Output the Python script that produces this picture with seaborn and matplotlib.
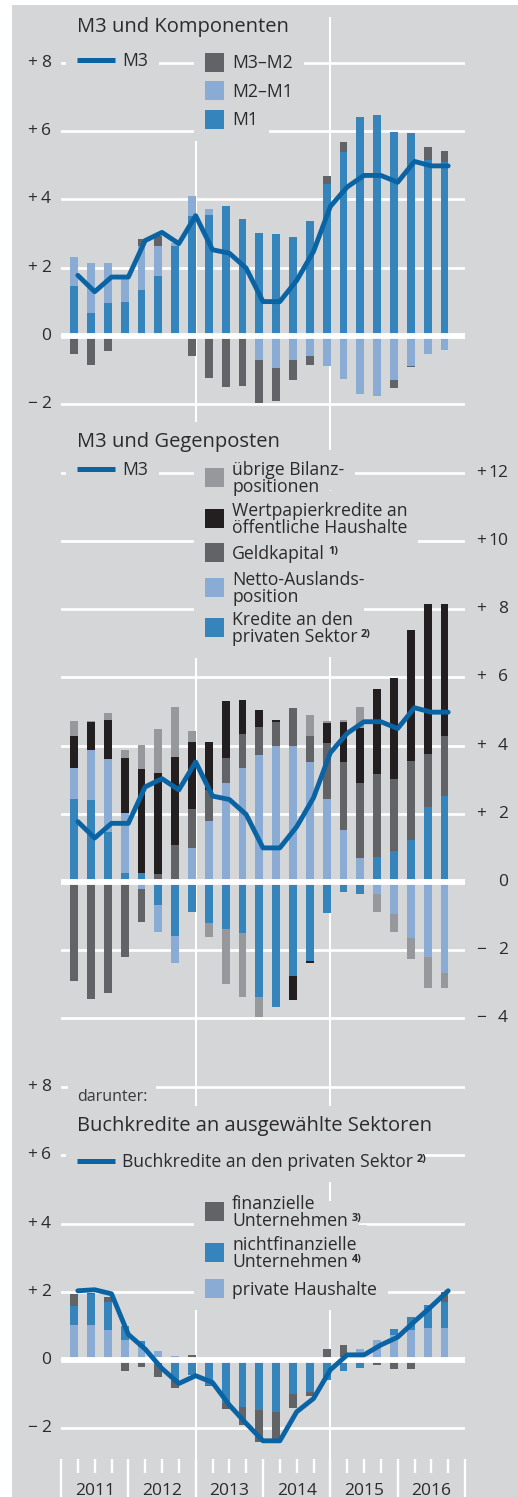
import numpy as np
import matplotlib
matplotlib.use("Agg")
import matplotlib.pyplot as plt
import seaborn as sns
from matplotlib.transforms import Affine2D, blended_transform_factory
from matplotlib.patches import Rectangle
from matplotlib.lines import Line2D

# ============================ data: quarterly rates, 2011 Q1 - 2016 Q3 ============================

years = ["2011", "2012", "2013", "2014", "2015", "2016"]

# M3 und Komponenten
m1 = [1.47, 0.67, 0.97, 0.99, 1.34, 1.75, 2.62, 3.52, 3.55, 3.80, 3.41, 3.02,
      2.97, 2.90, 3.35, 4.44, 5.38, 6.40, 6.48, 5.97, 5.95, 5.16, 5.09]
m2_m1 = [0.85, 1.47, 1.16, 0.70, 1.28, 0.89, 0.10, 0.59, 0.16, 0.0, 0.0, -0.72,
         -0.94, -0.72, -0.60, -0.89, -1.27, -1.70, -1.76, -1.30, -0.88, -0.53, -0.43]
m3_m2 = [-0.54, -0.87, -0.45, 0.0, 0.22, 0.27, 0.0, -0.59, -1.25, -1.50, -1.48, -1.24,
         -0.98, -0.57, -0.25, 0.24, 0.31, 0.0, 0.0, -0.22, -0.03, 0.37, 0.32]
m3 = [1.77, 1.29, 1.72, 1.72, 2.79, 3.03, 2.70, 3.52, 2.52, 2.42, 1.98, 1.00,
      1.00, 1.62, 2.47, 3.79, 4.36, 4.70, 4.70, 4.50, 5.11, 4.98, 4.98]

# M3 und Gegenposten
kredite = [2.44, 2.41, 1.46, 0.26, 0.26, -0.68, -1.57, -0.88, -1.19, -1.37, -1.50, -3.37,
           -3.67, -2.76, -2.31, -0.90, -0.30, -0.35, 0.73, 0.91, 1.24, 2.19, 2.51]
netto = [0.91, 1.46, 2.16, 1.76, -0.21, -0.80, -0.82, 0.99, 1.80, 2.90, 3.35, 3.72,
         4.00, 3.98, 3.51, 2.44, 1.53, 0.70, -0.35, -0.94, -1.64, -2.20, -2.67]
geldkapital = [-2.90, -3.43, -3.26, -2.20, -0.96, 0.24, 1.09, 1.15, 0.90, 0.73, 1.00, 0.84,
               0.70, 1.13, 0.78, 1.64, 2.00, 2.20, 2.44, 2.12, 2.32, 1.57, 1.76]
wertpapier = [0.92, 0.81, 1.13, 1.61, 3.06, 2.95, 2.59, 1.96, 1.40, 1.67, 1.00, 0.48,
              0.05, -0.71, -0.08, 0.57, 1.17, 1.62, 2.48, 2.94, 3.83, 4.40, 3.89]
uebrige = [0.45, 0.03, 0.22, 0.24, 0.71, 1.31, 1.46, 0.34, -0.41, -1.61, -1.87, -0.59,
           0.0, 0.0, 0.60, 0.07, 0.05, 0.62, -0.53, -0.52, -0.63, -0.90, -0.43]

# Buchkredite an ausgewaehlte Sektoren
priv_hh = [1.03, 1.03, 0.88, 0.59, 0.37, 0.25, 0.12, 0.0, 0.0, 0.0, 0.0, 0.0,
           0.0, 0.0, 0.0, 0.0, 0.0, 0.32, 0.59, 0.74, 0.88, 0.95, 0.95]
nichtfin = [0.54, 0.91, 0.81, 0.42, 0.18, -0.15, -0.62, -0.44, -0.73, -1.27, -1.39, -1.47,
            -1.52, -1.01, -0.95, -0.59, -0.31, -0.22, 0.0, 0.16, 0.39, 0.67, 0.74]
fin = [0.37, 0.03, 0.17, -0.31, -0.20, -0.35, -0.19, 0.15, -0.02, -0.18, -0.52, -0.93,
       -0.88, -0.41, -0.10, 0.32, 0.44, 0.0, -0.15, -0.25, -0.27, 0.0, 0.31]
buchkredite = [2.03, 2.06, 1.94, 0.75, 0.32, -0.25, -0.69, -0.46, -0.66, -1.32, -1.86, -2.37,
               -2.37, -1.52, -1.13, -0.29, 0.15, 0.15, 0.44, 0.67, 1.13, 1.57, 2.03]

# ================================= style =================================

BG = "#d5d6d8"
C_LINE = "#0a64a4"
C_BLUE = "#3584bc"
C_LIGHT = "#8aacd4"
C_DARK = "#626366"
C_GRAY = "#97989b"
C_BLACK = "#231f20"
TXT = "#2b2b2b"
LEG_SIZE = 12.7

sns.set_theme(style="white")
plt.rcParams["font.family"] = ["Open Sans", "DejaVu Sans"]

W, H = 518, 1497
fig = plt.figure(figsize=(W / 100, H / 100), dpi=100, facecolor="white")
PX = Affine2D().scale(1 / W, -1 / H).translate(0, 1) + fig.transFigure  # image pixels, y down
renderer = fig.canvas.get_renderer()

fig.add_artist(Rectangle((12, 5), W - 12, H - 5, transform=PX, fc=BG, ec="none", zorder=-10))

X0, X1, SCALE = 61, 465, 34.1
n = len(m1)
xb = np.arange(n) + 0.78   # bar positions (quarters)
xl = np.arange(n) + 1.0    # line positions


def make_axes(top, bottom, zero):
    ax = fig.add_axes([X0 / W, 1 - bottom / H, (X1 - X0) / W, (bottom - top) / H])
    ax.set_xlim(0, 24)
    ax.set_ylim((zero - bottom) / SCALE, (zero - top) / SCALE)
    ax.patch.set_visible(False)
    for s in ax.spines.values():
        s.set_visible(False)
    ax.set_xticks([])
    ax.set_yticks([])
    return ax


def grid(ax, ticks):
    for t in ticks:
        if t == 0:
            ax.axhline(0, color="white", lw=4.2, zorder=4)
        else:
            ax.axhline(t, color="white", lw=1.9, zorder=1)
    for v in (8, 16):
        ax.axvline(v, color="white", lw=1.5, zorder=1)


def ylabels(ax, ticks, x_sign, x_num):
    tr = blended_transform_factory(PX, ax.transData)
    for t in ticks:
        sign = "+" if t > 0 else ("\u2212" if t < 0 else "")
        if sign:
            ax.text(x_sign, t, sign, transform=tr, ha="left", va="center", fontsize=12.5, color=TXT)
        ax.text(x_num, t, str(abs(t)), transform=tr, ha="right", va="center", fontsize=12.5, color=TXT)


def stacked(ax, series, colors):
    pos = np.zeros(n)
    neg = np.zeros(n)
    for vals, c in zip(series, colors):
        v = np.asarray(vals, dtype=float)
        ax.bar(xb, v, bottom=np.where(v >= 0, pos, neg), width=0.47, color=c, linewidth=0, zorder=2)
        pos += np.clip(v, 0, None)
        neg += np.clip(v, None, 0)


def line(ax, vals):
    sns.lineplot(x=xl, y=vals, ax=ax, color=C_LINE, linewidth=3.5, sort=False, legend=False, zorder=6)


def text(x, y, s, size=LEG_SIZE, color=TXT, pad=0.62, weight="normal"):
    # background box (interrupts grid lines), then the text itself; y is the baseline
    fig.text(x, y, s, transform=PX, fontsize=size, color=(0, 0, 0, 0), va="baseline", ha="left",
             fontweight=weight, bbox=dict(boxstyle=f"square,pad={pad}", fc=BG, ec="none"), zorder=4)
    return fig.text(x, y, s, transform=PX, fontsize=size, color=color, va="baseline", ha="left",
                    fontweight=weight, zorder=6)


def text_block(x, yc, lines, sup=None, ls=17.0):
    k = len(lines)
    cap = 0.714 * LEG_SIZE * 100 / 72
    t = None
    yb = yc
    for i, s in enumerate(lines):
        yb = yc + (i - (k - 1) / 2) * ls + cap / 2
        t = text(x, yb, s)
    if sup:
        w = t.get_window_extent(renderer=renderer).width
        fig.text(x + w + 3.5, yb - 5.0, sup, transform=PX, fontsize=7.8, fontweight="bold",
                 color=TXT, va="baseline", ha="left", zorder=6)


def line_entry(y, lines, sup=None):
    fig.add_artist(Rectangle((66, y - 21), 60, 42, transform=PX, fc=BG, ec="none", zorder=4))
    fig.add_artist(Line2D([77, 115], [y, y], transform=PX, color=C_LINE, lw=3.6,
                          solid_capstyle="butt", zorder=6))
    text_block(122, y, lines, sup)


def square_entry(y, lines, color, sup=None):
    h = 44 + (len(lines) - 1) * 17
    fig.add_artist(Rectangle((194, y - h / 2), 42, h, transform=PX, fc=BG, ec="none", zorder=4))
    fig.add_artist(Rectangle((205, y - 9.5), 19, 19, transform=PX, fc=color, ec="none", zorder=6))
    text_block(232, y, lines, sup)


# ================================= panel 1: M3 und Komponenten =================================

ax1 = make_axes(17, 425, 335.7)
grid(ax1, [-2, 0, 2, 4, 6, 8])
ylabels(ax1, [-2, 0, 2, 4, 6, 8], 27, 51)
stacked(ax1, [m1, m2_m1, m3_m2], [C_BLUE, C_LIGHT, C_DARK])
line(ax1, m3)

text(77, 32, "M3 und Komponenten", size=14.5, pad=0.5)
line_entry(60, ["M3"])
square_entry(62, ["M3\u2013M2"], C_DARK)
square_entry(90.5, ["M2\u2013M1"], C_LIGHT)
square_entry(119, ["M1"], C_BLUE)

# ================================= panel 2: M3 und Gegenposten =================================

ax2 = make_axes(425, 1060, 882)
grid(ax2, [-4, -2, 0, 2, 4, 6, 8, 10, 12])
ylabels(ax2, [-4, -2, 0, 2, 4, 6, 8, 10, 12], 476, 508)
stacked(ax2, [kredite, netto, geldkapital, wertpapier, uebrige],
        [C_BLUE, C_LIGHT, C_DARK, C_BLACK, C_GRAY])
line(ax2, m3)

text(77, 447, "M3 und Gegenposten", size=14.5, pad=0.5)
line_entry(469, ["M3"])
square_entry(477.3, ["übrige Bilanz-", "positionen"], C_GRAY)
square_entry(518.3, ["Wertpapierkredite an", "öffentliche Haushalte"], C_BLACK)
square_entry(552.7, ["Geldkapital"], C_DARK, sup="1)")
square_entry(587.3, ["Netto-Auslands-", "position"], C_LIGHT)
square_entry(627.3, ["Kredite an den", "privaten Sektor"], C_BLUE, sup="2)")

# ============================ panel 3: Buchkredite an ausgewaehlte Sektoren ============================

ax3 = make_axes(1060, 1459, 1360)
grid(ax3, [-2, 0, 2, 4, 6, 8])
ylabels(ax3, [-2, 0, 2, 4, 6, 8], 27, 51)
stacked(ax3, [priv_hh, nichtfin, fin], [C_LIGHT, C_BLUE, C_DARK])
line(ax3, buchkredite)

text(77, 1101, "darunter:", size=11.5, color="#3a3a3a", pad=0.55)
text(77, 1131, "Buchkredite an ausgewählte Sektoren", size=14.5, pad=0.5)
line_entry(1161, ["Buchkredite an den privaten Sektor"], sup="2)")
square_entry(1211.3, ["finanzielle", "Unternehmen"], C_DARK, sup="3)")
square_entry(1252.3, ["nichtfinanzielle", "Unternehmen"], C_BLUE, sup="4)")
square_entry(1288.3, ["private Haushalte"], C_LIGHT)

# quarter ticks and year labels
ax3.set_xticks(np.arange(0, 25, 4))
ax3.set_xticks(np.arange(25), minor=True)
ax3.tick_params(axis="x", which="major", bottom=True, length=30, width=1.7, color="white",
                direction="out", labelbottom=False)
ax3.tick_params(axis="x", which="minor", bottom=True, length=10, width=1.7, color="white",
                direction="out", labelbottom=False)
ytr = blended_transform_factory(ax3.transData, PX)
for i, yr in enumerate(years):
    ax3.text(4 * i + 2, 1495, yr, transform=ytr, ha="center", va="baseline", fontsize=12.5, color=TXT)

fig.savefig("out.png", dpi=100, facecolor="white")
